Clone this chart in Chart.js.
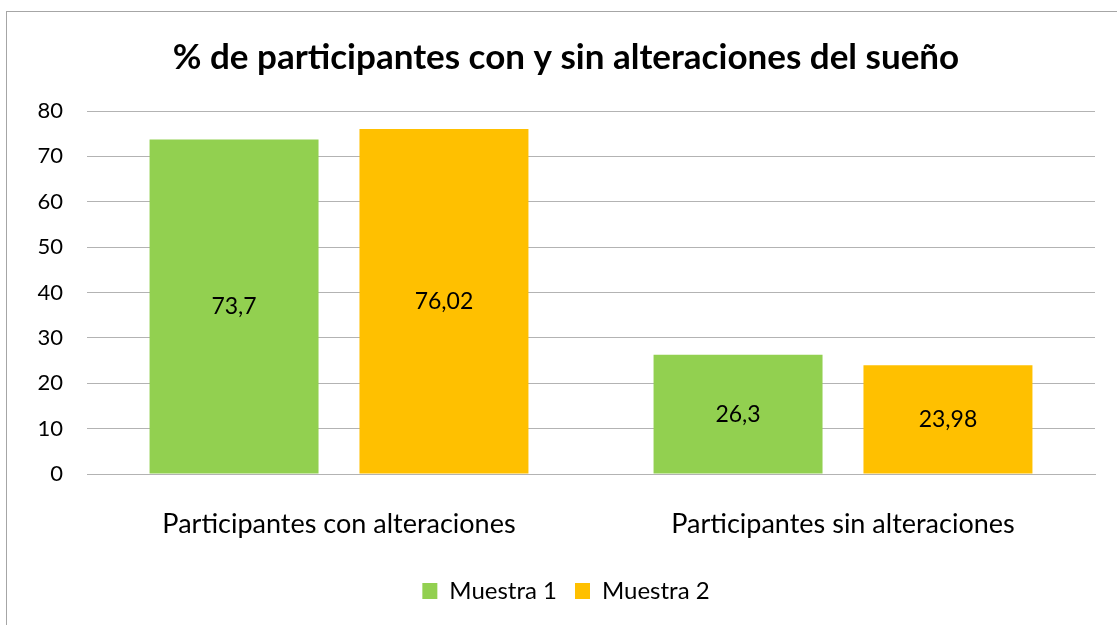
<!DOCTYPE html>
<html>
<head>
<meta charset="utf-8">
<script src="https://cdn.jsdelivr.net/npm/chart.js@4"></script>
<style>
  html, body { margin: 0; padding: 0; background: #fff; }
  #wrap { width: 1117px; height: 625px; position: relative; }
</style>
</head>
<body>
<div id="wrap"><canvas id="chart" width="1117" height="625"></canvas></div>
<script>
// data
const categories = ["Participantes con alteraciones", "Participantes sin alteraciones"];
const seriesNames = ["Muestra 1", "Muestra 2"];
const muestra1 = [73.7, 26.3];
const muestra2 = [76.02, 23.98];
const yTicks = { min: 0, max: 80, step: 10 };

const FONT = "Lato, 'Open Sans', 'Noto Sans', sans-serif";
const GRID = "#b3b3b3";

/* frame round the whole chart, like the office export */
const framePlugin = {
  id: "frame",
  beforeDraw(chart) {
    const c = chart.ctx;
    c.save();
    c.fillStyle = "#fff";
    c.fillRect(0, 0, chart.width, chart.height);
    c.strokeStyle = "#a6a6a6";
    c.lineWidth = 1;
    c.strokeRect(6.5, 11.5, chart.width + 10, chart.height + 10);
    c.restore();
  }
};

/* value labels in the middle of each bar */
const barLabels = {
  id: "barLabels",
  afterDatasetsDraw(chart) {
    const c = chart.ctx;
    c.save();
    c.font = "23px " + FONT;
    c.fillStyle = "#000";
    c.textAlign = "center";
    c.textBaseline = "middle";
    chart.data.datasets.forEach((ds, i) => {
      chart.getDatasetMeta(i).data.forEach((bar, j) => {
        const txt = String(ds.data[j]).replace(".", ",");
        c.fillText(txt, bar.x, (bar.y + bar.base) / 2);
      });
    });
    c.restore();
  }
};

new Chart(document.getElementById("chart"), {
  type: "bar",
  data: {
    labels: categories,
    datasets: [
      { label: seriesNames[0], data: muestra1, backgroundColor: "#92d050" },
      { label: seriesNames[1], data: muestra2, backgroundColor: "#ffc000" }
    ]
  },
  options: {
    responsive: false,
    animation: false,
    layout: { padding: { left: 37, right: 22, top: 20, bottom: 12 } },
    datasets: { bar: { categoryPercentage: 0.833, barPercentage: 0.805 } },
    scales: {
      x: {
        grid: { display: false, drawTicks: false },
        border: { color: GRID },
        ticks: { color: "#000", font: { size: 27, family: FONT }, padding: 34 },
        afterFit(s) { s.height = 87; }
      },
      y: {
        min: yTicks.min, max: yTicks.max,
        ticks: { stepSize: yTicks.step, color: "#000", font: { size: 22, family: FONT }, padding: 24 },
        grid: { color: GRID, drawTicks: false },
        border: { display: false },
        afterFit(s) { s.width = 50; }
      }
    },
    plugins: {
      title: {
        display: true,
        text: "% de participantes con y sin alteraciones del sueño",
        color: "#000",
        font: { size: 35, weight: "bold", family: FONT },
        padding: { top: 17, bottom: 32 }
      },
      legend: {
        position: "bottom",
        labels: {
          color: "#000",
          font: { size: 24, family: FONT },
          boxWidth: 15, boxHeight: 16,
          padding: 18
        }
      },
      tooltip: { enabled: false }
    }
  },
  plugins: [framePlugin, barLabels]
});
</script>
</body>
</html>
